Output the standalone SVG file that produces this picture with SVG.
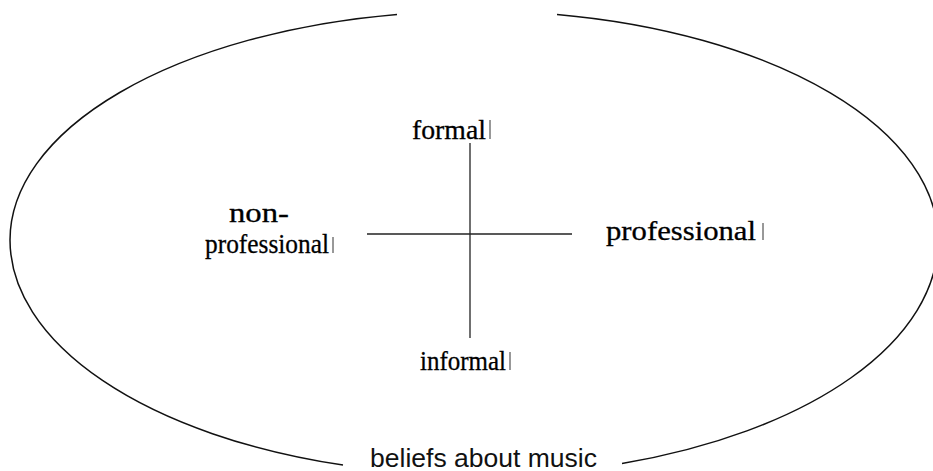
<svg xmlns="http://www.w3.org/2000/svg" width="933" height="471" viewBox="0 0 933 471">
<style>
.lbl{font-family:"Liberation Serif","Times New Roman",serif;font-size:28px;fill:#000;stroke:#000;stroke-width:0.3}
.cap{font-family:"Liberation Sans",Arial,sans-serif;font-size:25px;fill:#111}
.ln{stroke:#111;stroke-width:1.5;fill:none}
.ax{stroke:#222;stroke-width:1.3;fill:none}
.bar{stroke:#333;stroke-width:1}
</style>
<rect width="933" height="471" fill="#fff"/>
<g id="frame">
<path class="ln" d="M397 14.4 A466 229 0 0 0 10 240 A466 235 0 0 0 343 465.1"/>
<path class="ln" d="M557 14.4 A462 229 0 0 1 938 240 A462 235 0 0 1 622 463.5"/>
<text class="cap" x="370" y="467" textLength="227" lengthAdjust="spacingAndGlyphs">beliefs about music</text>
</g>
<g id="connectors">
<line class="ax" x1="470" y1="143" x2="470" y2="338"/>
<line class="ax" x1="367" y1="234" x2="572" y2="234"/>
</g>
<g id="formal">
<text class="lbl" x="412" y="139" textLength="74" lengthAdjust="spacingAndGlyphs">formal</text>
<line class="bar" x1="490" y1="120" x2="490" y2="139"/>
</g>
<g id="informal">
<text class="lbl" x="420" y="370" textLength="86" lengthAdjust="spacingAndGlyphs">informal</text>
<line class="bar" x1="510" y1="352" x2="510" y2="370"/>
</g>
<g id="non-professional">
<text class="lbl" x="229" y="222" textLength="60" lengthAdjust="spacingAndGlyphs">non-</text>
<text class="lbl" x="205" y="253" textLength="124" lengthAdjust="spacingAndGlyphs">professional</text>
<line class="bar" x1="333" y1="237" x2="333" y2="253"/>
</g>
<g id="professional">
<text class="lbl" x="606" y="240" textLength="150" lengthAdjust="spacingAndGlyphs">professional</text>
<line class="bar" x1="763" y1="223" x2="763" y2="240"/>
</g>
</svg>
